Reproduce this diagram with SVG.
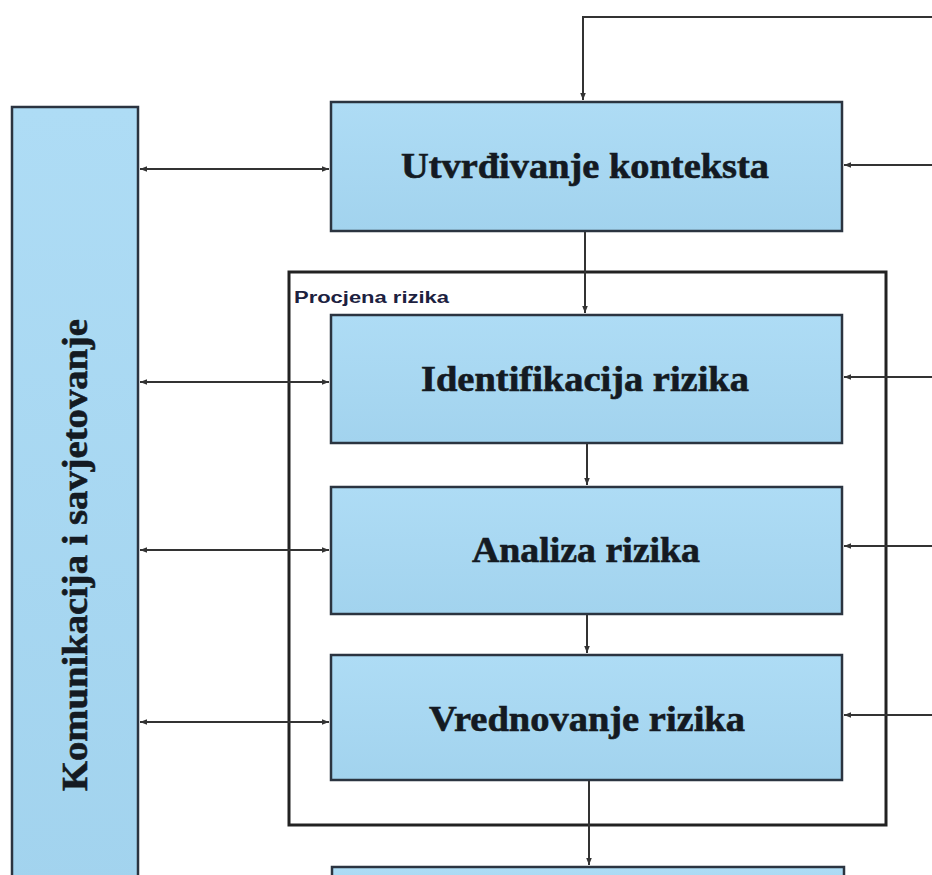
<svg xmlns="http://www.w3.org/2000/svg" width="932" height="875" viewBox="0 0 932 875">
<defs>
<linearGradient id="g" x1="0" y1="0" x2="0" y2="1">
<stop offset="0" stop-color="#aedcf5"/>
<stop offset="1" stop-color="#a2d3ee"/>
</linearGradient>
<marker id="ah" viewBox="0 0 10 10" refX="10" refY="5" markerWidth="7" markerHeight="7" orient="auto-start-reverse" markerUnits="userSpaceOnUse">
<path d="M0,1 L10,5 L0,9 z" fill="#333"/>
</marker>
<style>
.box{fill:url(#g);stroke:#2b3440;stroke-width:2.5}
.t{font-family:"Liberation Serif","DejaVu Serif",serif;font-weight:bold;font-size:35px;fill:#141a22;text-anchor:middle;stroke:#141a22;stroke-width:0.6}
.c{stroke:#333;stroke-width:2;fill:none}
.frame{fill:none;stroke:#222;stroke-width:3}
.lbl{font-family:"Liberation Sans","DejaVu Sans",sans-serif;font-size:16px;font-weight:bold;fill:#1c2140}
</style>
</defs>
<rect width="932" height="875" fill="#fff"/>
<g id="frame">
<rect class="frame" x="289" y="272" width="597" height="553"/>
<text class="lbl" x="294" y="303" textLength="155" lengthAdjust="spacingAndGlyphs">Procjena rizika</text>
</g>
<g id="komunikacija">
<rect class="box" x="12" y="107" width="126" height="790"/>
<text class="t" transform="translate(87,555) rotate(-90)" textLength="472" lengthAdjust="spacingAndGlyphs">Komunikacija i savjetovanje</text>
</g>
<g id="kontekst">
<rect class="box" x="331" y="102" width="511" height="129"/>
<text class="t" x="585" y="178" textLength="368" lengthAdjust="spacingAndGlyphs">Utvrđivanje konteksta</text>
</g>
<g id="identifikacija">
<rect class="box" x="331" y="315" width="511" height="128"/>
<text class="t" x="585" y="391" textLength="328" lengthAdjust="spacingAndGlyphs">Identifikacija rizika</text>
</g>
<g id="analiza">
<rect class="box" x="331" y="487" width="511" height="127"/>
<text class="t" x="586" y="562" textLength="228" lengthAdjust="spacingAndGlyphs">Analiza rizika</text>
</g>
<g id="vrednovanje">
<rect class="box" x="331" y="655" width="511" height="125"/>
<text class="t" x="587" y="731" textLength="316" lengthAdjust="spacingAndGlyphs">Vrednovanje rizika</text>
</g>
<g id="next">
<rect class="box" x="332" y="867" width="512" height="40"/>
</g>
<g id="connectors">
<path class="c" d="M932,17 L583,17 L583,100" marker-end="url(#ah)"/>
<path class="c" d="M585,232 L585,313" marker-end="url(#ah)"/>
<path class="c" d="M587,444 L587,485" marker-end="url(#ah)"/>
<path class="c" d="M587,615 L587,653" marker-end="url(#ah)"/>
<path class="c" d="M589,781 L589,865" marker-end="url(#ah)"/>
<path class="c" d="M932,165 L844,165" marker-end="url(#ah)"/>
<path class="c" d="M932,377 L844,377" marker-end="url(#ah)"/>
<path class="c" d="M932,546 L844,546" marker-end="url(#ah)"/>
<path class="c" d="M932,715 L844,715" marker-end="url(#ah)"/>
<path class="c" d="M140,169 L329,169" marker-start="url(#ah)" marker-end="url(#ah)"/>
<path class="c" d="M140,382 L329,382" marker-start="url(#ah)" marker-end="url(#ah)"/>
<path class="c" d="M140,550 L329,550" marker-start="url(#ah)" marker-end="url(#ah)"/>
<path class="c" d="M140,722 L329,722" marker-start="url(#ah)" marker-end="url(#ah)"/>
</g>
</svg>
